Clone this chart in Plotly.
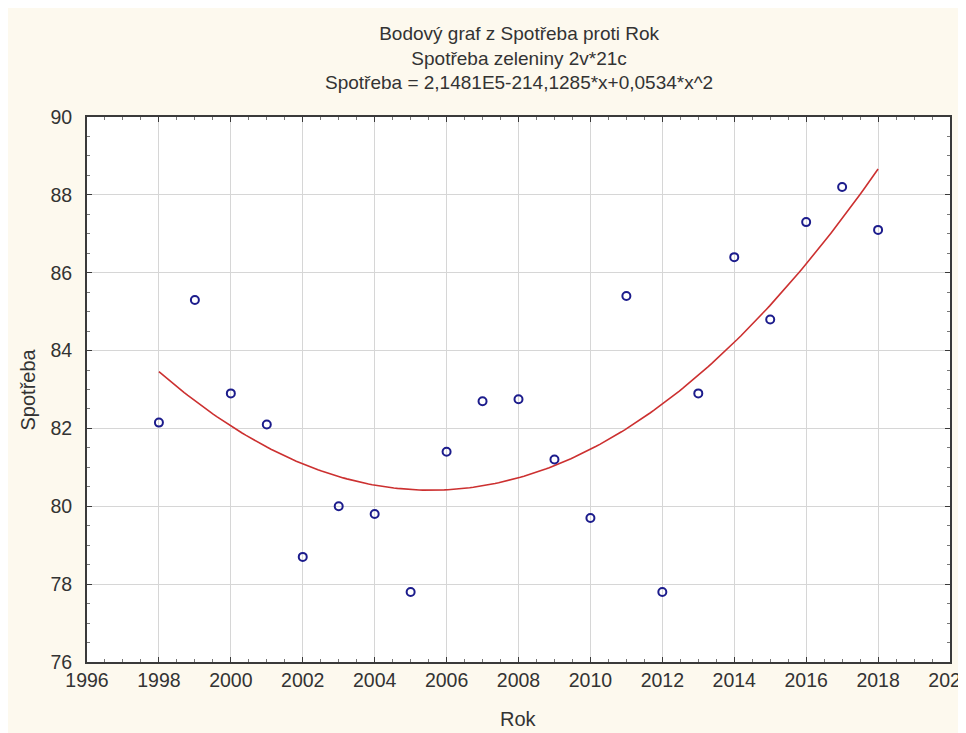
import numpy as np
import plotly.graph_objects as go

# Data
rok = [1998, 1999, 2000, 2001, 2002, 2003, 2004, 2005, 2006, 2007, 2008,
       2009, 2010, 2011, 2012, 2013, 2014, 2015, 2016, 2017, 2018]
spotreba = [82.15, 85.3, 82.9, 82.1, 78.7, 80.0, 79.8, 77.8, 81.4, 82.7, 82.75,
            81.2, 79.7, 85.4, 77.8, 82.9, 86.4, 84.8, 87.3, 88.2, 87.1]

title_lines = ["Bodový graf z Spotřeba proti Rok",
               "Spotřeba zeleniny 2v*21c",
               "Spotřeba = 2,1481E5-214,1285*x+0,0534*x^2"]
x_title = "Rok"
y_title = "Spotřeba"

# quadratic least-squares fit of the data (as in the reference)
xr = np.array(rok, dtype=float)
yr = np.array(spotreba, dtype=float)
x0 = xr.mean()
coef = np.polyfit(xr - x0, yr, 2)
xf = np.linspace(xr.min(), xr.max(), 200)
yf = np.polyval(coef, xf - x0)

FONT = "Liberation Sans, Arial, sans-serif"
TXT = "#333333"

fig = go.Figure()
fig.add_trace(go.Scatter(x=xf, y=yf, mode="lines",
                         line=dict(color="#cc3030", width=1.6),
                         hoverinfo="skip", showlegend=False))
fig.add_trace(go.Scatter(x=rok, y=spotreba, mode="markers",
                         marker=dict(symbol="circle-open", size=8,
                                     color="#1c1c8c", line=dict(width=2, color="#1c1c8c")),
                         showlegend=False))

axis_common = dict(
    showline=True, linecolor="#3a3a3a", linewidth=2, mirror="allticks",
    ticks="inside", ticklen=5, tickwidth=1, tickcolor="#3a3a3a",
    showgrid=True, gridcolor="#d6d6d6", gridwidth=1, zeroline=False,
    tickfont=dict(family=FONT, size=19.5, color=TXT),
    ticklabeloverflow="allow", automargin=False,
    minor=dict(ticks="inside", ticklen=3, tickcolor="#777777", showgrid=False),
)

fig.update_xaxes(range=[1996, 2020], dtick=2, tick0=1996, **axis_common)
fig.update_yaxes(range=[76, 90], dtick=2, tick0=76, ticklabelstandoff=9, **axis_common)

W, H = 958, 725
fig.update_layout(
    width=W, height=H,
    margin=dict(l=79, r=16, t=109, b=71),
    paper_bgcolor="#fdf9ee", plot_bgcolor="white",
    font=dict(family=FONT, color=TXT),
    annotations=[
        dict(text="<br>".join(title_lines), xref="paper", yref="paper",
             x=0.5, y=1 + (117-58)/545, xanchor="center", yanchor="middle",
             showarrow=False, font=dict(family=FONT, size=19, color=TXT)),
        dict(text=x_title, xref="paper", yref="paper", x=0.5, y=-(719-662)/545,
             xanchor="center", yanchor="middle", showarrow=False,
             font=dict(family=FONT, size=20, color=TXT)),
        dict(text=y_title, xref="paper", yref="paper", x=(27-87)/863, y=0.5,
             xanchor="center", yanchor="middle", textangle=-90, showarrow=False,
             font=dict(family=FONT, size=20, color=TXT)),
    ],
)

fig.write_html("out.html")
